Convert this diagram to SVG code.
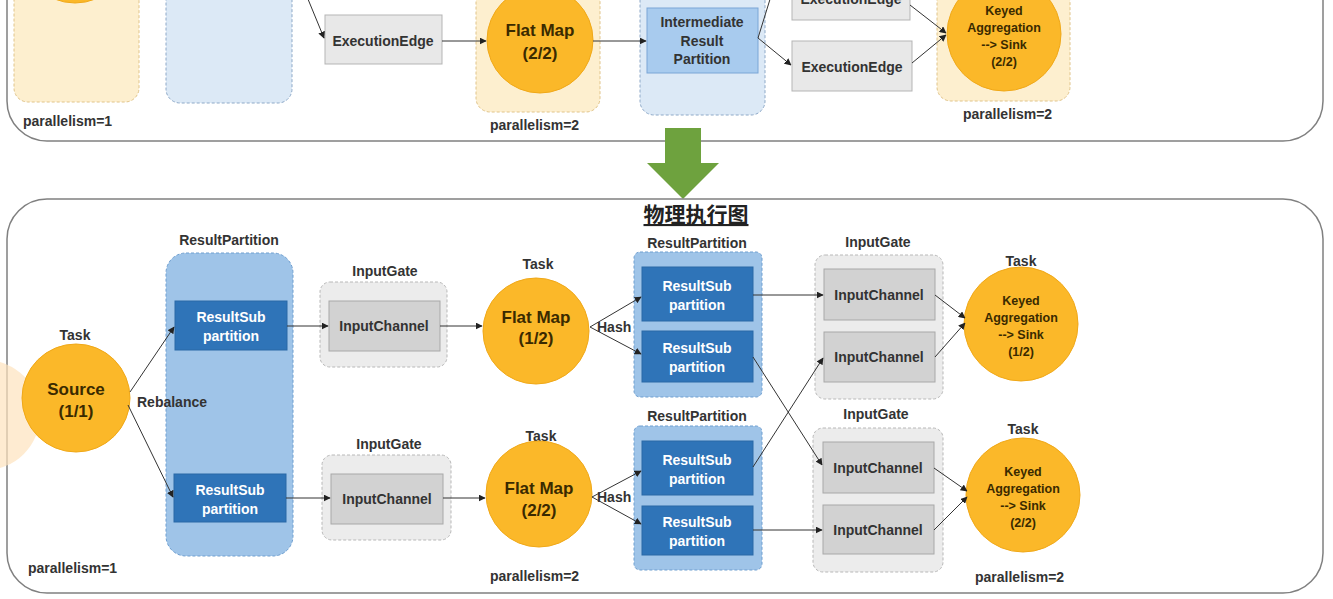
<svg xmlns="http://www.w3.org/2000/svg" width="1333" height="599" viewBox="0 0 1333 599">
<defs>
<marker id="ah" viewBox="0 0 10 10" refX="9" refY="5" markerWidth="7" markerHeight="7" orient="auto" markerUnits="userSpaceOnUse">
<path d="M0,0 L10,5 L0,10 z" fill="#222"/>
</marker>
<style>
text{font-family:"Liberation Sans",Arial,sans-serif;fill:#222;}
.lbl{font-size:14px;font-weight:bold;text-anchor:middle;fill:#333;}
.par{font-size:14px;font-weight:bold;fill:#333;}
.big{font-size:17px;font-weight:bold;text-anchor:middle;fill:#3a2a00;}
.sm{font-size:12.5px;font-weight:bold;text-anchor:middle;fill:#3a2a00;}
.wt{font-size:14px;font-weight:bold;text-anchor:middle;fill:#fff;}
.ch{font-size:14px;font-weight:bold;text-anchor:middle;fill:#333;}
.panel{fill:#fff;stroke:#808080;stroke-width:1.5;}
.ocont{fill:#fdefcf;stroke:#e0c48a;stroke-width:1;stroke-dasharray:3 2;}
.bcont{fill:#dce9f6;stroke:#8ea9c8;stroke-width:1;stroke-dasharray:3 2;}
.bcont2{fill:#9fc4e8;stroke:#6f9fd0;stroke-width:1;stroke-dasharray:3 2;}
.gcont{fill:#ececec;stroke:#b8b8b8;stroke-width:1;stroke-dasharray:3 2;}
.circ{fill:#fbb829;stroke:#f0a818;stroke-width:1;}
.ee{fill:#e8e8e8;stroke:#b5b5b5;stroke-width:1;}
.irp{fill:#a8cbee;stroke:#7aa6d6;stroke-width:1;}
.rsp{fill:#2f74b8;stroke:#2a68a6;stroke-width:1;}
.ich{fill:#d2d2d2;stroke:#a8a8a8;stroke-width:1;}
.cn{fill:none;stroke:#333;stroke-width:1;marker-end:url(#ah);}
.cl{fill:none;stroke:#333;stroke-width:1;}
</style>
</defs>
<rect width="1333" height="599" fill="#fff"/>

<!-- Top panel (execution graph) -->
<g id="top-panel">
<rect class="panel" x="7" y="-100" width="1316" height="241" rx="40"/>
</g>
<g id="top-source">
<rect class="ocont" x="14" y="-30" width="125" height="132" rx="14"/>
<circle class="circ" cx="75" cy="-52" r="55"/>
<text class="par" x="23" y="126">parallelism=1</text>
</g>
<g id="top-irp1">
<rect class="bcont" x="166" y="-30" width="126" height="133" rx="14"/>
</g>
<g id="top-ee1">
<rect class="ee" x="325" y="15" width="117" height="49"/>
<text class="ch" x="383" y="46">ExecutionEdge</text>
</g>
<g id="top-flatmap">
<rect class="ocont" x="476" y="-30" width="124" height="142" rx="14"/>
<circle class="circ" cx="540" cy="40" r="53"/>
<text class="big" x="540" y="36">Flat Map</text>
<text class="big" x="540" y="59">(2/2)</text>
<text class="par" x="490" y="130">parallelism=2</text>
</g>
<g id="top-irp2">
<rect class="bcont" x="640" y="-30" width="125" height="145" rx="14"/>
<rect class="irp" x="647" y="8" width="111" height="65"/>
<text class="lbl" x="702" y="27">Intermediate</text>
<text class="lbl" x="702" y="46">Result</text>
<text class="lbl" x="702" y="64">Partition</text>
</g>
<g id="top-ee2">
<rect class="ee" x="792" y="-30" width="118" height="50"/>
<text class="ch" x="851" y="4">ExecutionEdge</text>
</g>
<g id="top-ee3">
<rect class="ee" x="792" y="41" width="120" height="50"/>
<text class="ch" x="852" y="72">ExecutionEdge</text>
</g>
<g id="top-sink">
<rect class="ocont" x="937" y="-30" width="133" height="131" rx="14"/>
<circle class="circ" cx="1004" cy="34" r="57"/>
<text class="sm" x="1004" y="15">Keyed</text>
<text class="sm" x="1004" y="32">Aggregation</text>
<text class="sm" x="1004" y="49">--&gt; Sink</text>
<text class="sm" x="1004" y="66">(2/2)</text>
<text class="par" x="963" y="119">parallelism=2</text>
</g>

<!-- Green transition arrow -->
<g id="transition-arrow">
<polygon points="665,128 701,128 701,163 719,163 683,199 647,163 665,163" fill="#6ea23e"/>
</g>

<!-- Bottom panel (physical graph) -->
<g id="bottom-panel">
<rect class="panel" x="7" y="199" width="1316" height="394" rx="40"/>
<text x="696" y="222" style="font-family:'Noto Sans CJK SC','Liberation Sans',sans-serif;font-size:21px;font-weight:bold;text-anchor:middle;text-decoration:underline;fill:#222;">物理执行图</text>
</g>

<g id="ghost">
<circle cx="-15" cy="415" r="55" fill="#fde3bd" opacity="0.7"/>
</g>

<g id="source">
<text class="lbl" x="75" y="340">Task</text>
<circle class="circ" cx="76" cy="398" r="54"/>
<text class="big" x="76" y="395">Source</text>
<text class="big" x="76" y="417">(1/1)</text>
<text class="par" x="28" y="573">parallelism=1</text>
</g>

<g id="rp1">
<text class="lbl" x="229" y="245">ResultPartition</text>
<rect class="bcont2" x="166" y="253" width="127" height="303" rx="20"/>
<rect class="rsp" x="175" y="301" width="112" height="49"/>
<text class="wt" x="231" y="322">ResultSub</text>
<text class="wt" x="231" y="341">partition</text>
<rect class="rsp" x="174" y="474" width="112" height="48"/>
<text class="wt" x="230" y="495">ResultSub</text>
<text class="wt" x="230" y="514">partition</text>
</g>

<g id="ig1">
<text class="lbl" x="385" y="276">InputGate</text>
<rect class="gcont" x="320" y="282" width="127" height="85" rx="10"/>
<rect class="ich" x="329" y="301" width="111" height="50"/>
<text class="ch" x="384" y="331">InputChannel</text>
</g>
<g id="ig2">
<text class="lbl" x="389" y="449">InputGate</text>
<rect class="gcont" x="322" y="455" width="129" height="85" rx="10"/>
<rect class="ich" x="331" y="474" width="112" height="50"/>
<text class="ch" x="387" y="504">InputChannel</text>
</g>

<g id="flatmap1">
<text class="lbl" x="538" y="269">Task</text>
<circle class="circ" cx="536" cy="331" r="53"/>
<text class="big" x="536" y="323">Flat Map</text>
<text class="big" x="536" y="344">(1/2)</text>
</g>
<g id="flatmap2">
<text class="lbl" x="541" y="441">Task</text>
<circle class="circ" cx="539" cy="494" r="53"/>
<text class="big" x="539" y="494">Flat Map</text>
<text class="big" x="539" y="516">(2/2)</text>
<text class="par" x="490" y="581">parallelism=2</text>
</g>

<g id="rp2">
<text class="lbl" x="697" y="248">ResultPartition</text>
<rect class="bcont2" x="634" y="252" width="128" height="145" rx="6"/>
<rect class="rsp" x="642" y="267" width="111" height="54"/>
<text class="wt" x="697" y="291">ResultSub</text>
<text class="wt" x="697" y="310">partition</text>
<rect class="rsp" x="642" y="331" width="111" height="51"/>
<text class="wt" x="697" y="353">ResultSub</text>
<text class="wt" x="697" y="372">partition</text>
</g>
<g id="rp3">
<text class="lbl" x="697" y="421">ResultPartition</text>
<rect class="bcont2" x="634" y="426" width="128" height="144" rx="6"/>
<rect class="rsp" x="642" y="441" width="111" height="54"/>
<text class="wt" x="697" y="465">ResultSub</text>
<text class="wt" x="697" y="484">partition</text>
<rect class="rsp" x="642" y="506" width="111" height="49"/>
<text class="wt" x="697" y="527">ResultSub</text>
<text class="wt" x="697" y="546">partition</text>
</g>

<g id="ig3">
<text class="lbl" x="878" y="247">InputGate</text>
<rect class="gcont" x="815" y="255" width="128" height="144" rx="10"/>
<rect class="ich" x="824" y="269" width="111" height="51"/>
<text class="ch" x="879" y="300">InputChannel</text>
<rect class="ich" x="824" y="332" width="111" height="50"/>
<text class="ch" x="879" y="362">InputChannel</text>
</g>
<g id="ig4">
<text class="lbl" x="876" y="419">InputGate</text>
<rect class="gcont" x="813" y="428" width="130" height="144" rx="10"/>
<rect class="ich" x="823" y="442" width="111" height="51"/>
<text class="ch" x="878" y="473">InputChannel</text>
<rect class="ich" x="823" y="505" width="111" height="49"/>
<text class="ch" x="878" y="535">InputChannel</text>
</g>

<g id="sink1">
<text class="lbl" x="1021" y="266">Task</text>
<circle class="circ" cx="1021" cy="324" r="57"/>
<text class="sm" x="1021" y="305">Keyed</text>
<text class="sm" x="1021" y="322">Aggregation</text>
<text class="sm" x="1021" y="339">--&gt; Sink</text>
<text class="sm" x="1021" y="356">(1/2)</text>
</g>
<g id="sink2">
<text class="lbl" x="1023" y="434">Task</text>
<circle class="circ" cx="1023" cy="495" r="57"/>
<text class="sm" x="1023" y="476">Keyed</text>
<text class="sm" x="1023" y="493">Aggregation</text>
<text class="sm" x="1023" y="510">--&gt; Sink</text>
<text class="sm" x="1023" y="527">(2/2)</text>
<text class="par" x="975" y="582">parallelism=2</text>
</g>

<g id="connectors">
<!-- top -->
<path class="cn" d="M296,-30 L324,38"/>
<path class="cn" d="M442,41 L486,41"/>
<path class="cn" d="M593,41 L646,41"/>
<path class="cl" d="M758,38 L776,-20"/>
<path class="cn" d="M758,38 L791,65"/>
<path class="cn" d="M910,5 L946,33"/>
<path class="cn" d="M912,63 L946,35"/>
<!-- bottom -->
<path class="cn" d="M130,392 L174,327"/>
<path class="cn" d="M128,405 L173,497"/>
<path class="cn" d="M287,326 L328,326"/>
<path class="cn" d="M286,498 L330,498"/>
<path class="cn" d="M440,326 L482,326"/>
<path class="cn" d="M443,498 L485,498"/>
<path class="cn" d="M590,327 L641,297"/>
<path class="cn" d="M590,327 L641,354"/>
<path class="cn" d="M592,497 L641,471"/>
<path class="cn" d="M592,497 L641,524"/>
<path class="cn" d="M753,295 L823,295"/>
<path class="cn" d="M753,357 L822,465"/>
<path class="cn" d="M753,467 L823,358"/>
<path class="cn" d="M753,530 L822,530"/>
<path class="cn" d="M935,295 L965,318"/>
<path class="cn" d="M935,357 L965,323"/>
<path class="cn" d="M934,468 L967,491"/>
<path class="cn" d="M934,530 L967,497"/>
</g>

<g id="edge-labels">
<text class="par" x="137" y="407">Rebalance</text>
<text class="par" x="597" y="332">Hash</text>
<text class="par" x="597" y="502">Hash</text>
</g>
</svg>
